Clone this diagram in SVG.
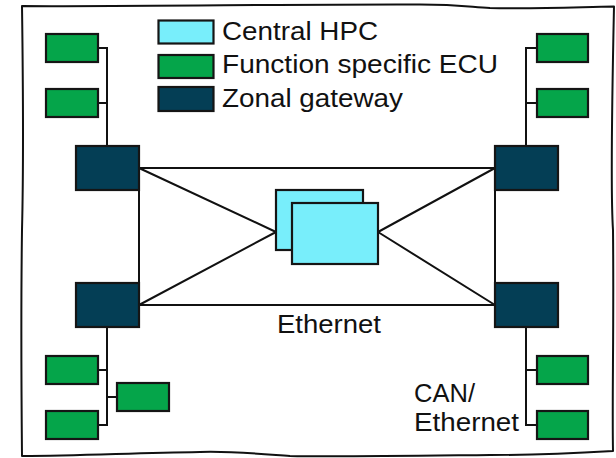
<svg xmlns="http://www.w3.org/2000/svg" width="616" height="458" viewBox="0 0 616 458">
  <style>
    .frame { fill: #ffffff; stroke: #111111; stroke-width: 2; stroke-linejoin: round; }
    .box { stroke: #151515; stroke-width: 2.2; }
    .hpc { fill: #78eefb; }
    .ecu { fill: #05a54a; }
    .gw { fill: #043e55; }
    .wire { fill: none; stroke: #111111; stroke-width: 2; }
    .lbl { font-family: "Liberation Sans", Arial, sans-serif; font-size: 26px; fill: #111111; }
  </style>

  <rect x="0" y="0" width="616" height="458" fill="#ffffff"/>

  <!-- hand-drawn outer frame -->
  <path class="frame" d="M22,6 C120,7 300,4 420,4.5 C460,4.5 470,7 490,8 C540,9 580,7 614,6.5 C612,100 611,200 613,230 C614,330 612,400 613,451 C560,454 520,455 490,455 C400,456 330,457 290,456 C250,453 230,451 200,452 C130,453 80,456 22,456 C21,350 21,300 22,230 C24,150 23,80 22,6 Z"/>

  <!-- legend -->
  <g id="legend">
    <rect class="box hpc" x="158.5" y="20.5" width="55" height="23"/>
    <rect class="box ecu" x="158.5" y="55" width="55" height="23"/>
    <rect class="box gw" x="158.5" y="87" width="55" height="24"/>
    <text class="lbl" x="222" y="40" textLength="156" lengthAdjust="spacingAndGlyphs">Central HPC</text>
    <text class="lbl" x="222" y="73" textLength="276" lengthAdjust="spacingAndGlyphs">Function specific ECU</text>
    <text class="lbl" x="222" y="106.5" textLength="181" lengthAdjust="spacingAndGlyphs">Zonal gateway</text>
  </g>

  <!-- connectors -->
  <g id="connectors" class="wire">
    <!-- Ethernet backbone -->
    <path d="M139,168 H495 M139,305 H495 M139,190 V283 M495,190 V283"/>
    <path d="M139,168 L276,232 M139,305 L276,232 M495,168 L378,232 M495,305 L378,232"/>
    <!-- CAN/Ethernet branches -->
    <path d="M98,48 H107 V146 M98,103 H107"/>
    <path d="M537,48 H526 V146 M537,103 H526"/>
    <path d="M107,327 V425 H98 M98,370 H107 M107,397 H117"/>
    <path d="M526,327 V425 H537 M537,370 H526"/>
  </g>

  <!-- central HPC -->
  <g id="hpc">
    <rect class="box hpc" x="276" y="190" width="87" height="60"/>
    <rect class="box hpc" x="292" y="203" width="86" height="61"/>
  </g>

  <!-- zonal gateways -->
  <g id="gw-top-left"><rect class="box gw" x="76" y="146" width="63" height="44"/></g>
  <g id="gw-bottom-left"><rect class="box gw" x="76" y="283" width="63" height="44"/></g>
  <g id="gw-top-right"><rect class="box gw" x="495" y="146" width="63" height="44"/></g>
  <g id="gw-bottom-right"><rect class="box gw" x="495" y="283" width="63" height="44"/></g>

  <!-- function specific ECUs -->
  <g id="ecu-1"><rect class="box ecu" x="46" y="34" width="52" height="28"/></g>
  <g id="ecu-2"><rect class="box ecu" x="46" y="89" width="52" height="28"/></g>
  <g id="ecu-3"><rect class="box ecu" x="537" y="34" width="51" height="28"/></g>
  <g id="ecu-4"><rect class="box ecu" x="537" y="89" width="51" height="28"/></g>
  <g id="ecu-5"><rect class="box ecu" x="46" y="356" width="52" height="28"/></g>
  <g id="ecu-6"><rect class="box ecu" x="46" y="411" width="52" height="28"/></g>
  <g id="ecu-7"><rect class="box ecu" x="117" y="383" width="52" height="28"/></g>
  <g id="ecu-8"><rect class="box ecu" x="537" y="356" width="51" height="28"/></g>
  <g id="ecu-9"><rect class="box ecu" x="537" y="411" width="51" height="28"/></g>

  <!-- link labels -->
  <g id="labels">
    <text class="lbl" x="277" y="333" textLength="104" lengthAdjust="spacingAndGlyphs">Ethernet</text>
    <text class="lbl" x="414" y="401.5" textLength="61" lengthAdjust="spacingAndGlyphs">CAN/</text>
    <text class="lbl" x="414" y="431" textLength="105" lengthAdjust="spacingAndGlyphs">Ethernet</text>
  </g>
</svg>
